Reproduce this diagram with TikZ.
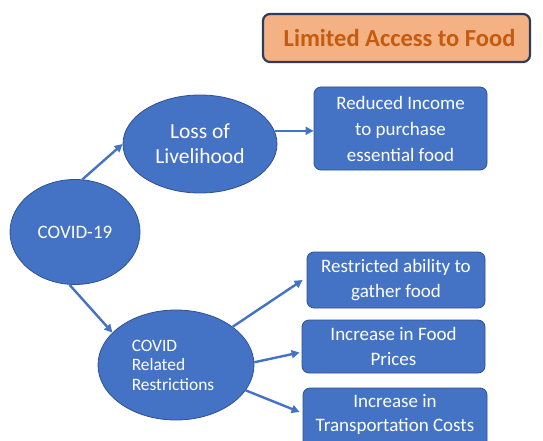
\documentclass[tikz,border=0pt]{standalone}
\usepackage{fontspec}
\setmainfont{Carlito}
\usetikzlibrary{shapes.geometric,arrows.meta}
\definecolor{shapeblue}{HTML}{4472C4}
\definecolor{edgeblue}{HTML}{2F528F}
\definecolor{titlefill}{HTML}{F4B183}
\definecolor{titletext}{HTML}{C55A11}
\definecolor{titleedge}{HTML}{2E3B5B}
\tikzset{
  oval/.style={ellipse, fill=shapeblue, draw=edgeblue, line width=0.8pt, text=white, inner sep=0pt, align=center},
  bluebox/.style={rectangle, rounded corners=7pt, fill=shapeblue, draw=edgeblue, line width=0.8pt, text=white, inner sep=0pt, align=center, font=\fontsize{19}{25}\selectfont},
  titlebox/.style={rectangle, rounded corners=7pt, fill=titlefill, draw=titleedge, line width=2.2pt, text=titletext, inner sep=0pt, font=\bfseries\fontsize{24.5}{28}\selectfont},
  arr/.style={draw=shapeblue, line width=2.4pt, -{Triangle[length=8pt,width=8pt]}}
}
\begin{document}
\begin{tikzpicture}[x=1pt,y=-1pt]
\useasboundingbox (0,0) rectangle (543,441);
\fill[white] (0,0) rectangle (543,441);
\node[titlebox, minimum width=267pt, minimum height=48pt] (title) at (396.5,38) {\hspace*{6pt}Limited Access to Food};
\node[oval, minimum width=130pt, minimum height=105pt, font=\fontsize{19}{23}\selectfont] (covid) at (75,232) {COVID-19};
\node[oval, minimum width=154pt, minimum height=98pt, font=\fontsize{21.5}{25}\selectfont] (loss) at (200,144) {Loss of\\Livelihood};
\node[oval, minimum width=156pt, minimum height=110pt, align=left, font=\fontsize{17.4}{19.5}\selectfont] (restr) at (176,365) {\hspace*{-6pt}COVID\\\hspace*{-6pt}Related\\\hspace*{-6pt}Restrictions};
\node[bluebox, minimum width=173pt, minimum height=83pt, font=\fontsize{19}{26}\selectfont] (reduced) at (400.5,128.5) {Reduced Income\\to purchase\\essential food};
\node[bluebox, minimum width=178pt, minimum height=56pt] (gather) at (396,280) {Restricted ability to\\gather food};
\node[bluebox, minimum width=183pt, minimum height=53pt] (prices) at (393.5,346.5) {Increase in Food\\Prices};
\node[bluebox, minimum width=184pt, minimum height=64pt] (transport) at (395,420) {};
\node[text=white, align=center, inner sep=0pt, font=\fontsize{19}{24}\selectfont, anchor=north] (transtext) at (395,394) {Increase in\\Transportation Costs};
\draw[arr] (covid.82) -- (loss.west);
\draw[arr] (covid.-96) -- (restr.153);
\draw[arr] (loss.10) -- (loss.10 -| reduced.west);
\draw[arr] (restr.34) -- ([xshift=-4pt]gather.west);
\draw[arr] (restr.2) -- ([xshift=-2pt,yshift=-6pt]prices.west);
\draw[arr] (restr.-20) -- ([xshift=-3pt,yshift=8pt]transport.west);
\end{tikzpicture}
\end{document}
